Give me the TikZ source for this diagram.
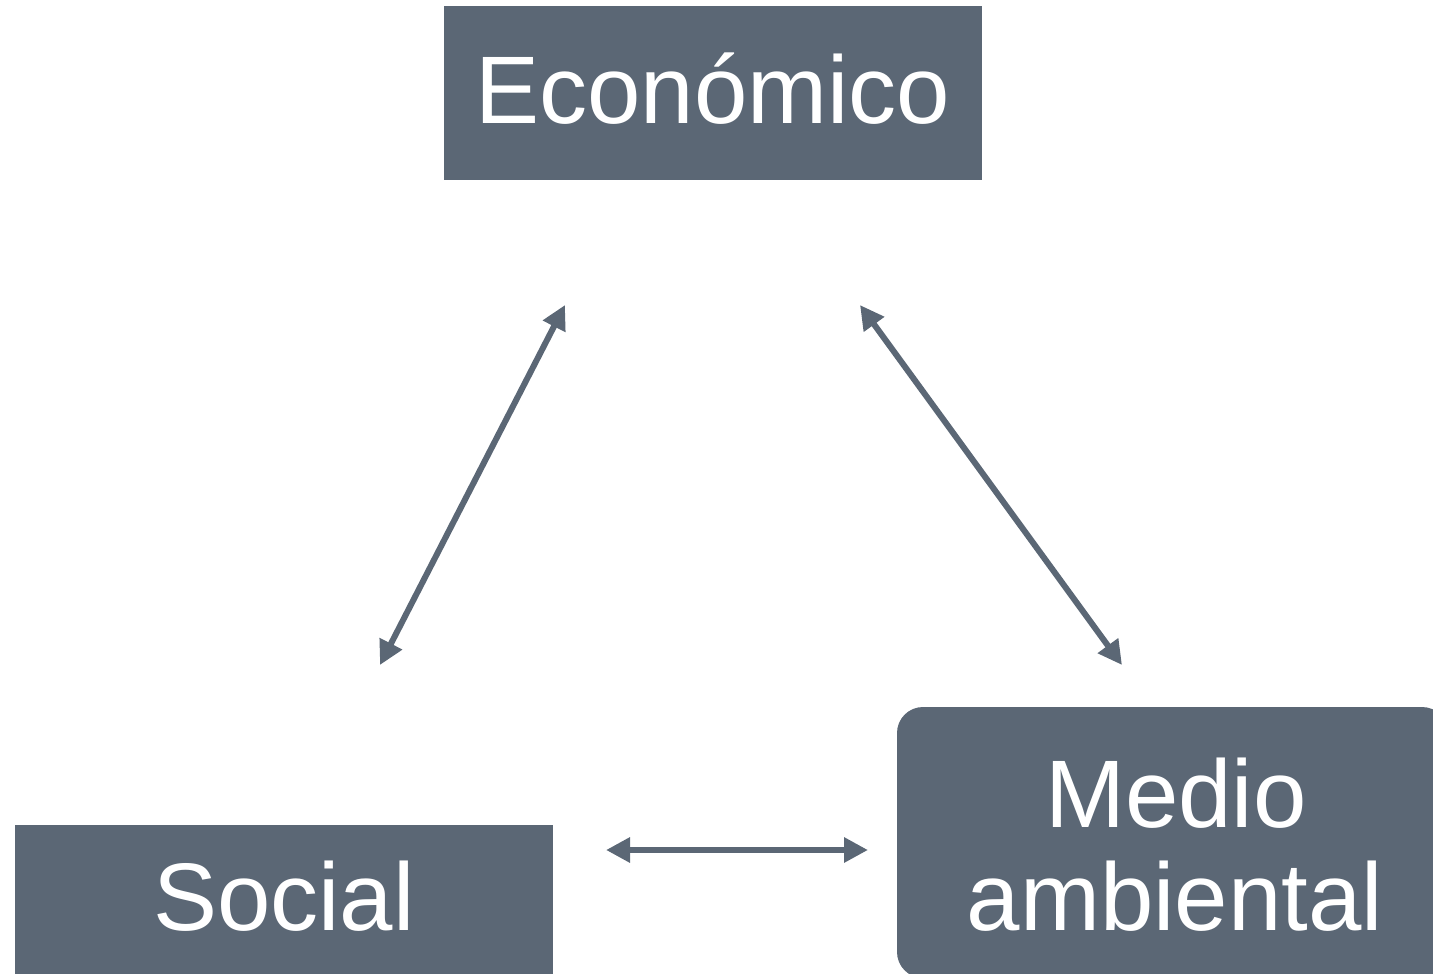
\documentclass[tikz,border=0pt]{standalone}
\usepackage{fontspec}
\setmainfont{Liberation Sans}
\usetikzlibrary{arrows.meta}
\definecolor{slate}{RGB}{91,103,117}
\begin{document}
\begin{tikzpicture}[x=1pt,y=-1pt,
  box/.style={fill=slate, draw=none, inner sep=0pt, outer sep=0pt, anchor=north west},
  lab/.style={text=white, font=\fontsize{96}{103}\selectfont, anchor=base, inner sep=0pt},
  dbl/.style={draw=slate, line width=6pt, {Triangle[length=24pt,width=24pt]}-{Triangle[length=24pt,width=24pt]}}]
\path[use as bounding box] (0,0) rectangle (1433,974);
\clip (0,0) rectangle (1433,974);
% boxes
\node[box, minimum width=538pt, minimum height=174pt] (eco) at (444,6) {};
\node[box, minimum width=538pt, minimum height=170pt] (soc) at (15,825) {};
\node[box, rounded corners=26pt, minimum width=551pt, minimum height=271pt] (med) at (897,707) {};
% labels
\node[lab] (ecot) at (713,124) {Económico};
\node[lab] (soct) at (284,930) {Social};
\node[lab] (medt1) at (1176,827) {Medio};
\node[lab] (medt2) at (1175,930) {ambiental};
% arrow ends
\coordinate (a1) at (565,305);
\coordinate (a2) at (380,665);
\coordinate (b1) at (860,305);
\coordinate (b2) at (1122,665);
\coordinate (c1) at (606,850);
\coordinate (c2) at (868,850);
\draw[dbl] (a1) -- (a2);
\draw[dbl] (b1) -- (b2);
\draw[dbl] (c1) -- (c2);
\end{tikzpicture}
\end{document}
